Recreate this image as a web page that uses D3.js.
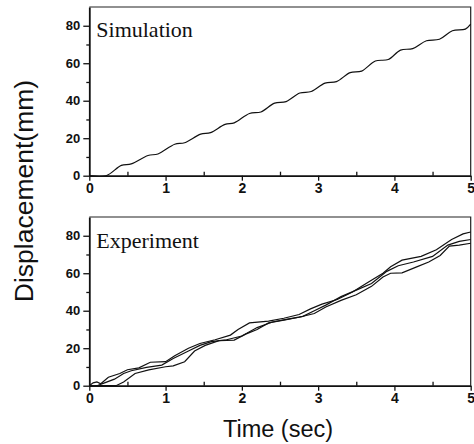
<!DOCTYPE html>
<html lang="en">
<head>
  <meta charset="UTF-8">
  <title>Displacement vs time</title>
  <style>
    body { margin: 0; background: #fff; }
  </style>
</head>
<body>
  <svg id="svg" width="474" height="444"></svg>

  <script src="https://d3js.org/d3.v7.min.js"></script>
  <script>
    // ------ DATA -----------------------------------------------
    const timeTicks = [0, 1, 2, 3, 4, 5]
    const timeMinor = [0.5, 1.5, 2.5, 3.5, 4.5]
    const dispTicks = [0, 20, 40, 60, 80]
    const dispMinor = [10, 30, 50, 70]

    // simulation: [time, displacement]
    const simulation = [
      [0, 0], [0.22, 0], [0.42, 5.5], [0.55, 6.3], [0.77, 10.8], [0.9, 11.6],
      [1.12, 16.8], [1.25, 17.6], [1.46, 22.2], [1.59, 23.0], [1.78, 27.4], [1.9, 28.2],
      [2.1, 33.2], [2.25, 34.0], [2.43, 38.7], [2.58, 39.5], [2.76, 44.1], [2.91, 44.9],
      [3.09, 49.4], [3.24, 50.2], [3.42, 55.0], [3.57, 55.8], [3.75, 61.2], [3.92, 62.0],
      [4.08, 67.0], [4.24, 67.8], [4.42, 72.0], [4.59, 72.8], [4.76, 77.3], [4.93, 78.2],
      [5.0, 80.8]
    ]

    // experiment runs
    const runA = [
      [0, 0], [0.05, 1.5], [0.1, 2], [0.15, 1], [0.25, 4.5], [0.4, 6.5], [0.5, 8.5],
      [0.65, 9.5], [0.8, 12.5], [1.0, 12.8], [1.12, 16], [1.3, 20], [1.45, 22.5],
      [1.65, 24.5], [1.85, 27], [1.95, 30], [2.1, 33.5], [2.35, 34.5], [2.55, 36],
      [2.75, 38], [2.9, 41], [3.05, 43.5], [3.25, 46], [3.45, 50], [3.65, 55], [3.85, 60],
      [3.95, 63.5], [4.1, 67], [4.35, 69], [4.55, 72.5], [4.75, 78], [4.9, 81], [5, 82]
    ]
    const runB = [
      [0, 0], [0.1, 0], [0.2, 1.5], [0.33, 3.5], [0.45, 6.5], [0.55, 8], [0.75, 9.8],
      [0.95, 11], [1.1, 14.5], [1.3, 18.5], [1.45, 21.5], [1.6, 23.5], [1.8, 24.5],
      [2.0, 26.5], [2.2, 31], [2.4, 34], [2.6, 35.5], [2.8, 37], [2.95, 40], [3.1, 43],
      [3.3, 47.5], [3.5, 51], [3.7, 54.5], [3.9, 61], [4.05, 64], [4.25, 66], [4.5, 69],
      [4.7, 75], [4.85, 77], [5, 78]
    ]
    const runC = [
      [0, 0], [0.35, 0], [0.45, 2], [0.6, 6.5], [0.78, 8.4], [1.0, 10.1], [1.1, 10.6],
      [1.25, 12.8], [1.38, 18.5], [1.52, 21.5], [1.7, 24], [1.9, 24.3], [2.05, 27.5],
      [2.2, 30], [2.35, 33.5], [2.55, 35], [2.75, 36.5], [2.95, 38.5], [3.1, 42],
      [3.3, 45.5], [3.5, 48.5], [3.7, 53], [3.85, 58], [3.95, 60], [4.1, 60.2],
      [4.3, 63.5], [4.45, 66], [4.6, 69.5], [4.72, 74.5], [4.85, 75], [5, 76]
    ]

    // ------ CONSTANTS ------------------------
    const left = 89.3
    const right = 470.7
    const panels = [
      { label: 'Simulation', top: 7, bottom: 175.7, series: [simulation], curve: d3.curveCatmullRom.alpha(0.5), labelY: 37, labelSize: 22 },
      { label: 'Experiment', top: 217, bottom: 385.7, series: [runA, runB, runC], curve: d3.curveLinear, labelY: 248, labelSize: 22 }
    ]

    const svg = d3.select('#svg')

    const xscale = d3.scaleLinear()
      .domain([0, 5])
      .range([left, right])

    panels.forEach(p => {
      const yscale = d3.scaleLinear()
        .domain([0, 90])
        .range([p.bottom, p.top])

      const g = svg.append('g')

      // frame (top and right)
      g.append('path')
        .attr('d', `M${xscale(0)},${yscale(90)}H${xscale(5)}V${yscale(0)}`)
        .attr('fill', 'none')
        .attr('stroke', '#222')
        .attr('stroke-width', 1.2)

      // lines
      const line = d3.line()
        .x(d => xscale(d[0]))
        .y(d => yscale(d[1]))
        .curve(p.curve)

      g.selectAll('path.run')
        .data(p.series)
        .enter()
        .append('path')
        .attr('class', 'run')
        .attr('d', line)
        .attr('fill', 'none')
        .attr('stroke', '#111')
        .attr('stroke-width', 1.2)

      // ------ AXES ------------------------
      const bottomAxis = d3.axisBottom(xscale)
        .tickValues(timeTicks)
        .tickSize(5)
        .tickSizeOuter(0)
        .tickPadding(2)
        .tickFormat(d3.format('d'))
      const xg = g.append('g')
        .attr('transform', `translate(0, ${yscale(0)})`)
        .call(bottomAxis)

      const minorX = d3.axisBottom(xscale)
        .tickValues(timeMinor)
        .tickSize(-4)
        .tickFormat('')
      const xmg = g.append('g')
        .attr('transform', `translate(0, ${yscale(0)})`)
        .call(minorX)
      xmg.select('.domain').remove()

      const leftAxis = d3.axisLeft(yscale)
        .tickValues(dispTicks)
        .tickSize(6)
        .tickSizeOuter(0)
        .tickPadding(3)
      const yg = g.append('g')
        .attr('transform', `translate(${left}, 0)`)
        .call(leftAxis)

      const minorY = d3.axisLeft(yscale)
        .tickValues(dispMinor)
        .tickSize(3)
        .tickFormat('')
      const ymg = g.append('g')
        .attr('transform', `translate(${left}, 0)`)
        .call(minorY)
      ymg.select('.domain').remove()

      g.selectAll('.domain').attr('stroke', '#111').attr('stroke-width', 1.8)
      g.selectAll('.tick line').attr('stroke', '#111').attr('stroke-width', 1.3)

      xg.selectAll('text')
        .style('font-family', '"Liberation Sans", Arial, sans-serif')
        .style('font-weight', 'bold')
        .style('font-size', '14px')
        .attr('fill', '#111')
      yg.selectAll('text')
        .style('font-family', '"Liberation Sans", Arial, sans-serif')
        .style('font-weight', 'bold')
        .style('font-size', '13px')
        .attr('fill', '#111')

      // panel label
      g.append('text')
        .attr('x', left + 7)
        .attr('y', p.labelY)
        .style('font-family', '"Liberation Serif", "Times New Roman", serif')
        .style('font-size', p.labelSize + 'px')
        .attr('fill', '#111')
        .text(p.label)
    })

    // axis titles
    svg.append('text')
      .attr('transform', 'translate(33, 191) rotate(-90)')
      .attr('text-anchor', 'middle')
      .style('font-family', '"Liberation Sans", Arial, sans-serif')
      .style('font-size', '26.5px')
      .attr('fill', '#111')
      .text('Displacement(mm)')

    svg.append('text')
      .attr('x', 278)
      .attr('y', 437)
      .attr('text-anchor', 'middle')
      .style('font-family', '"Liberation Sans", Arial, sans-serif')
      .style('font-size', '23.5px')
      .attr('fill', '#111')
      .text('Time (sec)')
  </script>
</body>
</html>
